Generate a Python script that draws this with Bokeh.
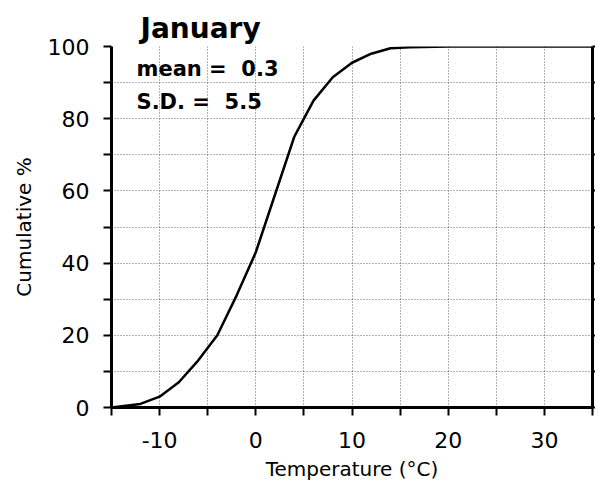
from bokeh.plotting import figure
from bokeh.models import FixedTicker, LinearAxis, Label, Range1d
from bokeh.embed import file_html
from bokeh.resources import INLINE

temp = [-15, -12, -10, -8, -6, -4, -2, 0, 2, 4, 5, 6, 8, 10, 12, 14, 16, 20, 35]
cum_pct = [0, 1, 3, 7, 13, 20, 31, 43, 59, 75, 80, 85, 91.5, 95.5, 98, 99.5, 99.8, 100, 100]
x_major = [-10, 0, 10, 20, 30]
x_minor = [-15, -5, 5, 15, 25, 35]
y_major = [0, 20, 40, 60, 80, 100]
y_minor = [10, 30, 50, 70, 90]
title_text = "January"
stats = ["mean = \u00a00.3", "S.D. = \u00a05.5"]
stats_y = [93.8, 84.7]

FONT = "DejaVu Sans"

p = figure(frame_width=481, frame_height=361, output_backend="svg", toolbar_location=None,
           x_range=Range1d(-15, 35), y_range=Range1d(0, 100),
           min_border_left=111, min_border_right=0, min_border_top=46, min_border_bottom=0)
p.outline_line_color = None
p.background_fill_color = "white"

p.title.text = title_text
p.title.text_font = FONT
p.title.text_font_size = "28px"
p.title.text_font_style = "bold"
p.title.text_color = "black"
p.title.align = "left"
p.title.offset = 29
p.title.standoff = 0
p.title.vertical_align = "top"

for g in (p.xgrid, p.ygrid):
    g.grid_line_color = "black"
    g.grid_line_alpha = 0.6
    g.grid_line_dash = "1 2"
    g.grid_line_width = 1
    g.minor_grid_line_color = "black"
    g.minor_grid_line_alpha = 0.6
    g.minor_grid_line_dash = "1 2"
p.xgrid.ticker = FixedTicker(ticks=x_major, minor_ticks=x_minor)
p.ygrid.ticker = FixedTicker(ticks=y_major, minor_ticks=y_minor)

xa = p.xaxis[0]
xa.ticker = FixedTicker(ticks=x_major, minor_ticks=x_minor)
xa.major_label_overrides = {t: str(t) for t in x_major}
ya = p.yaxis[0]
ya.ticker = FixedTicker(ticks=y_major, minor_ticks=y_minor)

for ax in (xa, ya):
    ax.axis_line_width = 3
    ax.axis_line_color = "black"
    ax.major_tick_line_width = 2
    ax.minor_tick_line_width = 2
    ax.major_tick_out = 8
    ax.major_tick_in = 0
    ax.minor_tick_out = 8
    ax.minor_tick_in = 0
    ax.major_label_text_font = FONT
    ax.major_label_text_font_size = "22px"
    ax.major_label_text_color = "black"
    ax.axis_label_text_font = FONT
    ax.axis_label_text_font_size = "20px"
    ax.axis_label_text_font_style = "normal"
    ax.axis_label_text_color = "black"

xa.axis_label = "Temperature (\u00b0C)"
xa.major_label_standoff = 16
xa.axis_label_standoff = 6
ya.axis_label = "Cumulative %"
ya.major_label_standoff = 14
ya.axis_label_standoff = 9

ra = LinearAxis(ticker=FixedTicker(ticks=y_major + y_minor))
ra.axis_line_width = 3
ra.major_tick_line_width = 2
ra.major_tick_out = 3
ra.major_tick_in = 0
ra.minor_tick_out = 0
ra.major_label_text_font_size = "0px"
ra.major_label_standoff = 0
p.add_layout(ra, "right")

p.line(temp, cum_pct, line_color="black", line_width=2.5)

for s, yv in zip(stats, stats_y):
    p.add_layout(Label(x=-12.4, y=yv, text=s, text_font=FONT,
                       text_font_size="21px", text_font_style="bold",
                       text_color="black", text_baseline="alphabetic"))

open("out.html", "w").write(file_html(p, INLINE))
